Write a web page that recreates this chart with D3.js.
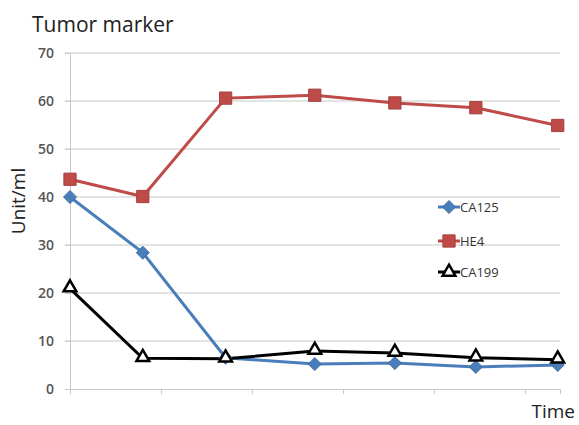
<!DOCTYPE html>
<html>
<head>
<meta charset="utf-8">
<script src="https://cdn.jsdelivr.net/npm/d3@7"></script>
<style>
  body { margin: 0; background: #fff; }
  text { font-family: "Open Sans", "Liberation Sans", sans-serif; }
</style>
</head>
<body>
<div id="chart"></div>
<script>
// data
const times = [0, 0.8, 1.71, 2.69, 3.57, 4.46, 5.36];
const ca125 = [40, 28.4, 6.5, 5.2, 5.4, 4.6, 5.0];
const he4 = [43.7, 40.1, 60.6, 61.2, 59.6, 58.6, 54.9];
const ca199 = [20.9, 6.4, 6.3, 7.9, 7.5, 6.5, 6.1];
const yTicks = [0, 10, 20, 30, 40, 50, 60, 70];
const xTicks = [0, 1, 2, 3, 4, 5];

const series = [
    { name: 'CA125', values: ca125, color: '#4a7ebb', marker: 'diamond' },
    { name: 'HE4', values: he4, color: '#be4b48', marker: 'square' },
    { name: 'CA199', values: ca199, color: '#000000', marker: 'triangle' }
];

const width = 579, height = 425;
const margin = { left: 70, right: 19, top: 53, bottom: 36 };

const svg = d3.select('#chart').append('svg')
    .attr('width', width)
    .attr('height', height);

const x = d3.scaleLinear().domain([0, 5.385]).range([margin.left, width - margin.right]);
const y = d3.scaleLinear().domain([0, 70]).range([height - margin.bottom, margin.top]);

// gridlines
svg.append('g')
    .selectAll('line')
    .data(yTicks.filter(d => d > 0))
    .enter()
    .append('line')
    .attr('x1', margin.left - 5)
    .attr('x2', width - margin.right)
    .attr('y1', d => y(d))
    .attr('y2', d => y(d))
    .attr('stroke', '#c8c8c8')
    .attr('stroke-width', 1);

// y axis
const yAxis = svg.append('g')
    .attr('transform', `translate(${margin.left},0)`)
    .call(d3.axisLeft(y).tickValues(yTicks).tickSize(5).tickPadding(11));
yAxis.select('.domain').attr('stroke', '#c8c8c8');
yAxis.selectAll('.tick line').attr('stroke', '#c8c8c8');
yAxis.selectAll('.tick text')
    .attr('fill', '#555')
    .style('font-size', '14px')
    .style('font-weight', '600');

// x axis, no labels
const xAxis = svg.append('g')
    .attr('transform', `translate(0,${y(0)})`)
    .call(d3.axisBottom(x).tickValues(xTicks).tickSize(5).tickFormat(''));
xAxis.select('.domain').attr('stroke', '#c8c8c8');
xAxis.selectAll('.tick line').attr('stroke', '#c8c8c8');

const symbols = {
    diamond: 'M0,-6.5L6.5,0L0,6.5L-6.5,0Z',
    square: d3.symbol().type(d3.symbolSquare).size(150)(),
    triangle: d3.symbol().type(d3.symbolTriangle).size(70)()
};

function drawMarker(g, s, cx, cy) {
    const m = g.append('path')
        .attr('d', symbols[s.marker])
        .attr('transform', `translate(${cx},${cy})`);
    if (s.marker === 'triangle') {
        m.attr('fill', '#fff').attr('stroke', '#000').attr('stroke-width', 2.5);
    } else {
        m.attr('fill', s.color).attr('stroke', d3.color(s.color).darker(0.4)).attr('stroke-width', 1);
    }
}

const line = d3.line()
    .x((d, i) => x(times[i]))
    .y(d => y(d));

series.forEach(s => {
    svg.append('path')
        .datum(s.values)
        .attr('fill', 'none')
        .attr('stroke', s.color)
        .attr('stroke-width', 3)
        .attr('d', line);
});

series.forEach(s => {
    const g = svg.append('g');
    s.values.forEach((v, i) => drawMarker(g, s, x(times[i]), y(v) + (s.marker === 'triangle' ? -1 : 0)));
});

// legend
const legend = svg.append('g').attr('transform', 'translate(438,207)');
series.forEach((s, i) => {
    const ly = [0, 34, 65][i];
    legend.append('line')
        .attr('x1', 0).attr('x2', 22)
        .attr('y1', ly).attr('y2', ly)
        .attr('stroke', s.color)
        .attr('stroke-width', 3);
    drawMarker(legend, s, 11, ly);
    legend.append('text')
        .attr('x', 22)
        .attr('y', ly + 5)
        .attr('fill', '#333')
        .style('font-size', '13px')
        .text(s.name);
});

// titles
svg.append('text')
    .attr('x', 32)
    .attr('y', 32)
    .attr('fill', '#222')
    .style('font-size', '21px')
    .text('Tumor marker');

svg.append('text')
    .attr('transform', 'translate(25,201) rotate(-90)')
    .attr('text-anchor', 'middle')
    .attr('fill', '#222')
    .style('font-size', '19px')
    .text('Unit/ml');

svg.append('text')
    .attr('x', 575)
    .attr('y', 418)
    .attr('text-anchor', 'end')
    .attr('fill', '#222')
    .style('font-size', '19px')
    .text('Time');
</script>
</body>
</html>
